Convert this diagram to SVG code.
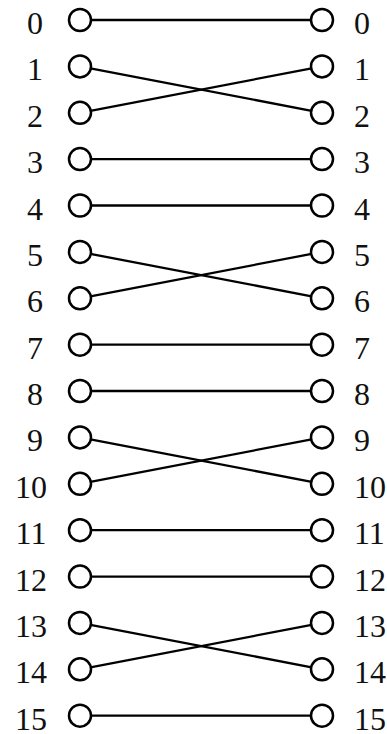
<svg xmlns="http://www.w3.org/2000/svg" width="387" height="734" viewBox="0 0 387 734">
<style>
.c{fill:#fff;stroke:#000;stroke-width:2.5}
.e line{stroke:#000;stroke-width:2.3}
text{font-family:"Liberation Serif","Times New Roman",serif;font-size:32px;fill:#111}
.l{text-anchor:middle}
</style>
<rect width="387" height="734" fill="#fff"/>
<g id="connectors" class="e">
<line x1="80" y1="20" x2="322" y2="20"/>
<line x1="80" y1="66.4" x2="322" y2="112.8"/>
<line x1="80" y1="112.8" x2="322" y2="66.4"/>
<line x1="80" y1="159.1" x2="322" y2="159.1"/>
<line x1="80" y1="205.5" x2="322" y2="205.5"/>
<line x1="80" y1="251.9" x2="322" y2="298.3"/>
<line x1="80" y1="298.3" x2="322" y2="251.9"/>
<line x1="80" y1="344.7" x2="322" y2="344.7"/>
<line x1="80" y1="391" x2="322" y2="391"/>
<line x1="80" y1="437.4" x2="322" y2="483.8"/>
<line x1="80" y1="483.8" x2="322" y2="437.4"/>
<line x1="80" y1="530.2" x2="322" y2="530.2"/>
<line x1="80" y1="576.6" x2="322" y2="576.6"/>
<line x1="80" y1="622.9" x2="322" y2="669.3"/>
<line x1="80" y1="669.3" x2="322" y2="622.9"/>
<line x1="80" y1="715.7" x2="322" y2="715.7"/>
</g>
<g id="L0"><circle class="c" cx="80" cy="20" r="11"/><text class="l" x="35" y="34">0</text></g>
<g id="L1"><circle class="c" cx="80" cy="66.4" r="11"/><text class="l" x="35" y="80.4">1</text></g>
<g id="L2"><circle class="c" cx="80" cy="112.8" r="11"/><text class="l" x="35" y="126.8">2</text></g>
<g id="L3"><circle class="c" cx="80" cy="159.1" r="11"/><text class="l" x="35" y="173.1">3</text></g>
<g id="L4"><circle class="c" cx="80" cy="205.5" r="11"/><text class="l" x="35" y="219.5">4</text></g>
<g id="L5"><circle class="c" cx="80" cy="251.9" r="11"/><text class="l" x="35" y="265.9">5</text></g>
<g id="L6"><circle class="c" cx="80" cy="298.3" r="11"/><text class="l" x="35" y="312.3">6</text></g>
<g id="L7"><circle class="c" cx="80" cy="344.7" r="11"/><text class="l" x="35" y="358.7">7</text></g>
<g id="L8"><circle class="c" cx="80" cy="391" r="11"/><text class="l" x="35" y="405">8</text></g>
<g id="L9"><circle class="c" cx="80" cy="437.4" r="11"/><text class="l" x="35" y="451.4">9</text></g>
<g id="L10"><circle class="c" cx="80" cy="483.8" r="11"/><text class="l" x="31" y="497.8">10</text></g>
<g id="L11"><circle class="c" cx="80" cy="530.2" r="11"/><text class="l" x="31" y="544.2">11</text></g>
<g id="L12"><circle class="c" cx="80" cy="576.6" r="11"/><text class="l" x="31" y="590.6">12</text></g>
<g id="L13"><circle class="c" cx="80" cy="622.9" r="11"/><text class="l" x="31" y="636.9">13</text></g>
<g id="L14"><circle class="c" cx="80" cy="669.3" r="11"/><text class="l" x="31" y="683.3">14</text></g>
<g id="L15"><circle class="c" cx="80" cy="715.7" r="11"/><text class="l" x="31" y="729.7">15</text></g>
<g id="R0"><circle class="c" cx="322" cy="20" r="11"/><text x="354" y="34">0</text></g>
<g id="R1"><circle class="c" cx="322" cy="66.4" r="11"/><text x="354" y="80.4">1</text></g>
<g id="R2"><circle class="c" cx="322" cy="112.8" r="11"/><text x="354" y="126.8">2</text></g>
<g id="R3"><circle class="c" cx="322" cy="159.1" r="11"/><text x="354" y="173.1">3</text></g>
<g id="R4"><circle class="c" cx="322" cy="205.5" r="11"/><text x="354" y="219.5">4</text></g>
<g id="R5"><circle class="c" cx="322" cy="251.9" r="11"/><text x="354" y="265.9">5</text></g>
<g id="R6"><circle class="c" cx="322" cy="298.3" r="11"/><text x="354" y="312.3">6</text></g>
<g id="R7"><circle class="c" cx="322" cy="344.7" r="11"/><text x="354" y="358.7">7</text></g>
<g id="R8"><circle class="c" cx="322" cy="391" r="11"/><text x="354" y="405">8</text></g>
<g id="R9"><circle class="c" cx="322" cy="437.4" r="11"/><text x="354" y="451.4">9</text></g>
<g id="R10"><circle class="c" cx="322" cy="483.8" r="11"/><text x="354" y="497.8">10</text></g>
<g id="R11"><circle class="c" cx="322" cy="530.2" r="11"/><text x="354" y="544.2">11</text></g>
<g id="R12"><circle class="c" cx="322" cy="576.6" r="11"/><text x="354" y="590.6">12</text></g>
<g id="R13"><circle class="c" cx="322" cy="622.9" r="11"/><text x="354" y="636.9">13</text></g>
<g id="R14"><circle class="c" cx="322" cy="669.3" r="11"/><text x="354" y="683.3">14</text></g>
<g id="R15"><circle class="c" cx="322" cy="715.7" r="11"/><text x="354" y="729.7">15</text></g>
</svg>
